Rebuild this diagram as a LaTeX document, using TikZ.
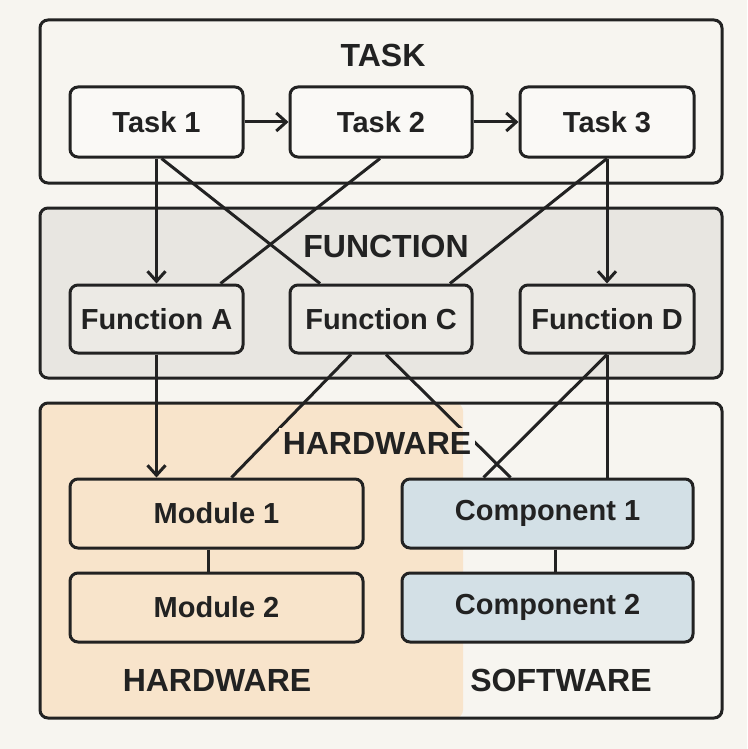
\documentclass[tikz,border=0pt]{standalone}
\usepackage{fontspec}
\setmainfont{Liberation Sans}
\usetikzlibrary{arrows.meta,calc}
\definecolor{bg}{HTML}{F7F5F0}
\definecolor{taskfill}{HTML}{FAF9F6}
\definecolor{funcbox}{HTML}{E8E6E1}
\definecolor{funcfill}{HTML}{ECEAE5}
\definecolor{peach}{HTML}{F8E4CB}
\definecolor{blue}{HTML}{D3E0E6}
\definecolor{ink}{HTML}{222222}
\tikzset{
  wline/.style={line width=3pt},
  group/.style={draw=ink, wline, rounded corners=8pt, inner sep=0pt},
  box/.style={draw=ink, wline, rounded corners=8pt, inner sep=0pt,
    font=\fontsize{29}{31}\selectfont\bfseries, text=ink},
  lab/.style={font=\fontsize{32}{34}\selectfont\bfseries, text=ink, inner sep=0pt},
  ln/.style={draw=ink, wline},
  arr/.style={draw=ink, wline, -{Straight Barb[length=10pt,width=18pt,line width=3pt]}}
}
\begin{document}
\begin{tikzpicture}[x=1pt,y=-1pt]
\useasboundingbox (0,0) rectangle (747,749);
\fill[bg] (0,0) rectangle (747,749);
\coordinate (split) at (463,420);

% group boxes
\node[group, fill=bg, minimum width=682pt, minimum height=163pt] (taskbox) at (381,101.5) {};
\node[group, fill=funcbox, minimum width=682pt, minimum height=170pt] (funcbox) at (381,293) {};
\node[group, fill=bg, minimum width=682pt, minimum height=315pt,
  path picture={\fill[peach] (path picture bounding box.north west) rectangle (path picture bounding box.south -| split);}] (hwbox) at (381,560.5) {};

% group labels
\node[lab] (tasklab) at (383,55) {TASK};
\node[lab] (funclab) at (386,246) {FUNCTION};
\node[lab] (hwbot) at (217,680) {HARDWARE};
\node[lab] (swbot) at (561,680) {SOFTWARE};

% task nodes
\node[box, fill=taskfill, minimum width=173pt, minimum height=70pt] (t1) at (156.5,122) {Task 1};
\node[box, fill=taskfill, minimum width=182pt, minimum height=70pt] (t2) at (381,122) {Task 2};
\node[box, fill=taskfill, minimum width=174pt, minimum height=70pt] (t3) at (607,122) {Task 3};

% function nodes
\node[box, fill=funcfill, minimum width=173pt, minimum height=68pt] (fa) at (156.5,319) {Function A};
\node[box, fill=funcfill, minimum width=182pt, minimum height=68pt] (fc) at (381,319) {Function C};
\node[box, fill=funcfill, minimum width=174pt, minimum height=68pt] (fd) at (607,319) {Function D};

% hardware / software nodes
\node[box, fill=peach, minimum width=293pt, minimum height=69pt] (m1) at (216.5,513.5) {Module 1};
\node[box, fill=peach, minimum width=293pt, minimum height=69pt] (m2) at (216.5,607.5) {Module 2};
\node[box, fill=blue, minimum width=291pt, minimum height=69pt] (c1) at (547.5,513.5) {Component 1};
\node[box, fill=blue, minimum width=291pt, minimum height=69pt] (c2) at (547.5,607.5) {Component 2};

% task arrows
\draw[arr] (t1.east) -- (t2.west);
\draw[arr] (t2.east) -- (t3.west);

% task -> function
\draw[arr] (t1.south) -- (fa.north);
\draw[ln] ([xshift=5pt]t1.south) -- ([xshift=-61pt]fc.north);
\draw[ln] ([xshift=-1pt]t2.south) -- ([xshift=64pt]fa.north);
\draw[ln] (t3.south) -- ([xshift=69pt]fc.north);
\draw[arr] (t3.south) -- (fd.north);

% function -> hardware/software
\draw[arr] (fa.south) -- (fa.south |- m1.north);
\draw[ln] ([xshift=-30pt]fc.south) -- ([xshift=15pt]m1.north);
\draw[ln] ([xshift=5pt]fc.south) -- ([xshift=-37pt]c1.north);
\draw[ln] (fd.south) -- ([xshift=-64pt]c1.north);
\draw[ln] (fd.south) -- (fd.south |- c1.north);

% internal links
\draw[ln] ([xshift=-8pt]m1.south) -- ([xshift=-8pt]m2.north);
\draw[ln] ([xshift=8pt]c1.south) -- ([xshift=8pt]c2.north);

% HARDWARE label with background patches
\node[lab, inner sep=4pt,
  path picture={
    \fill[peach] (path picture bounding box.north west) rectangle (path picture bounding box.south -| split);
    \fill[bg] (path picture bounding box.north -| split) rectangle (path picture bounding box.south east);
  }] (hwlab) at (377,443) {HARDWARE};
\end{tikzpicture}
\end{document}
